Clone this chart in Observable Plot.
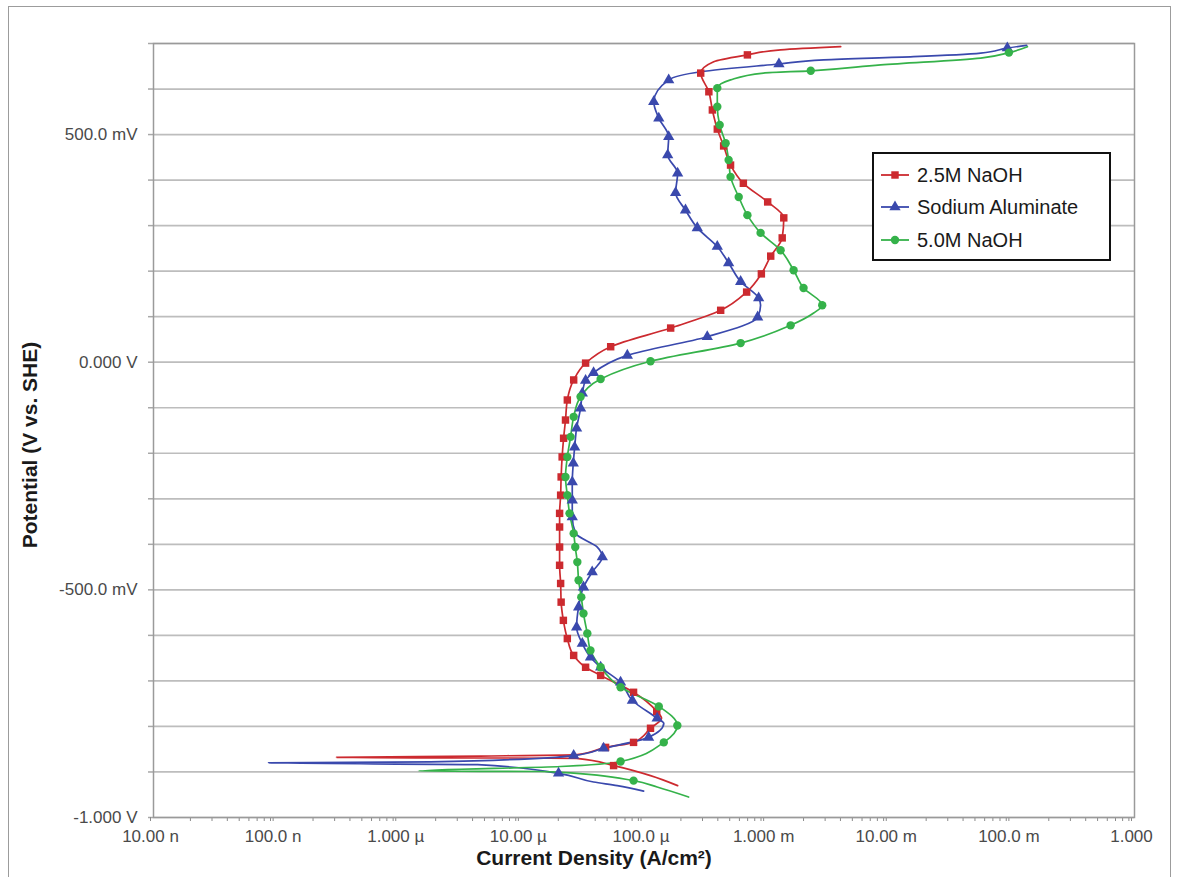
<!DOCTYPE html>
<html>
<head>
<meta charset="utf-8">
<script src="https://cdn.jsdelivr.net/npm/d3@7"></script>
<script src="https://cdn.jsdelivr.net/npm/@observablehq/plot@0.6"></script>
<style>
  html, body { margin: 0; padding: 0; background: #fff; }
  #wrap { position: relative; width: 1179px; height: 877px; overflow: hidden; font-family: "Liberation Sans", Arial, sans-serif; }
  #wrap svg.chart { position: absolute; left: 0; top: 0; }
  #outer { position: absolute; left: 8px; top: 6px; width: 1163px; height: 890px; border: 1.5px solid #9c9c9c; box-sizing: border-box; }
  .title { position: absolute; font-weight: bold; font-size: 21px; color: #1a1a1a; white-space: nowrap; }
  #xtitle { left: 594px; top: 858px; transform: translate(-50%, -50%); }
  #ytitle { left: 30px; top: 445px; transform: translate(-50%, -50%) rotate(-90deg); }
  #legend { position: absolute; left: 872px; top: 152px; width: 239px; height: 109px; box-sizing: border-box; border: 2px solid #111; background: #fff; }
  .row { position: absolute; left: 0; height: 26px; display: flex; align-items: center; font-size: 20px; color: #1a1a1a; }
  .row svg { margin-left: 6px; margin-right: 7px; }
</style>
</head>
<body>
<div id="wrap">
  <div id="outer"></div>
  <div id="legend"></div>
  <div class="title" id="xtitle">Current Density (A/cm²)</div>
  <div class="title" id="ytitle">Potential (V vs. SHE)</div>
</div>
<script>
// ---- series ----
const seriesNames = ["2.5M NaOH", "Sodium Aluminate", "5.0M NaOH"];
const seriesColors = ["#cc2a2f", "#3a49ad", "#35b24a"];
const seriesSymbols = ["square", "triangle", "circle"];

// 2.5M NaOH: potential (mV vs SHE), current density (A/cm²), marker flag
const naoh25E = [-930,-908,-886,-870,-868,-865,-862,-846,-835,-804,-782,-767,-725,-688,-670,-644,-607,-567,-527,-486,-446,-406,-362,-332,-292,-252,-208,-167,-127,-83,-39,-2,34,75,114,154,194,233,273,317,352,393,433,475,512,554,594,635,660,675,686,693];
const naoh25I = [1.88e-4,1.13e-4,5.65e-5,2.82e-5,3.11e-7,4.65e-6,2.86e-5,4.86e-5,8.22e-5,1.13e-4,1.39e-4,1.27e-4,8.22e-5,4.43e-5,3.34e-5,2.67e-5,2.37e-5,2.20e-5,2.11e-5,2.09e-5,2.05e-5,2.05e-5,2.05e-5,2.05e-5,2.09e-5,2.11e-5,2.15e-5,2.21e-5,2.29e-5,2.37e-5,2.67e-5,3.34e-5,5.35e-5,1.65e-4,4.22e-4,6.87e-4,9.06e-4,1.08e-3,1.34e-3,1.38e-3,1.02e-3,6.46e-4,5.08e-4,4.46e-4,3.96e-4,3.61e-4,3.38e-4,2.90e-4,3.70e-4,6.97e-4,1.30e-3,4.02e-3];
const naoh25M = [0,0,1,0,0,0,0,1,1,1,0,1,1,1,1,1,1,1,1,1,1,1,1,1,1,1,1,1,1,1,1,1,1,1,1,1,1,1,1,1,1,1,1,1,1,1,1,1,0,1,0,0];

// Sodium Aluminate
const alumE = [-942,-930,-922,-903,-884,-880,-878,-864,-848,-824,-793,-782,-743,-703,-670,-648,-618,-582,-538,-494,-461,-428,-406,-376,-340,-303,-263,-222,-187,-145,-101,-68,-40,-23,15,56,99,125,141,177,218,254,295,334,372,415,455,495,536,572,620,638,655,664,671,679,690,696];
const alumI = [9.93e-5,6.05e-5,3.88e-5,2.01e-5,4.40e-6,8.67e-8,1.82e-6,2.67e-5,4.68e-5,1.09e-4,1.45e-4,1.28e-4,8.04e-5,6.44e-5,4.43e-5,3.66e-5,3.14e-5,2.82e-5,2.93e-5,3.21e-5,3.78e-5,4.57e-5,4.16e-5,2.77e-5,2.60e-5,2.60e-5,2.60e-5,2.65e-5,2.72e-5,2.82e-5,3.04e-5,3.14e-5,3.34e-5,3.88e-5,7.31e-5,3.28e-4,8.45e-4,8.93e-4,8.61e-4,6.14e-4,4.90e-4,3.96e-4,2.72e-4,2.18e-4,1.81e-4,1.88e-4,1.56e-4,1.59e-4,1.32e-4,1.20e-4,1.59e-4,2.90e-4,1.26e-3,2.92e-3,1.58e-2,5.57e-2,9.18e-2,1.32e-1];
const alumM = [0,0,0,1,0,0,0,1,1,1,0,1,1,1,1,1,1,1,1,1,1,1,0,0,1,1,1,1,1,1,1,1,1,1,1,1,1,0,1,1,1,1,1,1,1,1,1,1,1,1,1,0,1,0,0,0,1,0];

// 5.0M NaOH
const naoh50E = [-955,-933,-919,-901,-899,-898,-888,-877,-835,-798,-756,-714,-670,-633,-596,-552,-516,-479,-439,-406,-376,-332,-292,-252,-208,-164,-120,-76,-37,2,42,81,108,125,163,202,246,284,323,363,407,444,481,521,561,602,620,635,640,653,668,680,693];
const naoh50I = [2.31e-4,1.28e-4,8.22e-5,2.09e-5,1.44e-5,1.45e-6,2.09e-5,6.44e-5,1.45e-4,1.87e-4,1.32e-4,6.44e-5,4.43e-5,3.66e-5,3.45e-5,3.21e-5,3.08e-5,2.93e-5,2.86e-5,2.75e-5,2.67e-5,2.47e-5,2.37e-5,2.29e-5,2.37e-5,2.52e-5,2.67e-5,3.04e-5,4.43e-5,1.13e-4,6.14e-4,1.57e-3,2.42e-3,2.84e-3,2.00e-3,1.66e-3,1.30e-3,8.93e-4,6.97e-4,5.92e-4,5.08e-4,4.90e-4,4.63e-4,4.14e-4,3.96e-4,3.96e-4,5.08e-4,9.44e-4,2.29e-3,8.51e-3,5.57e-2,9.46e-2,1.34e-1];
const naoh50M = [0,0,1,0,0,0,0,1,1,1,1,1,1,1,1,1,1,1,1,1,1,1,1,1,1,1,1,1,1,1,1,1,0,1,1,1,1,1,1,1,1,1,1,1,1,1,0,0,1,0,0,1,0];

// ---- axes ----
const yGridValues = d3.range(-1000, 701, 100);
const yLabelValues = [-1000, -500, 0, 500];
const yLabelTexts = ["-1.000 V", "-500.0 mV", "0.000 V", "500.0 mV"];
const xMajorValues = [1e-8, 1e-7, 1e-6, 1e-5, 1e-4, 1e-3, 1e-2, 1e-1, 1];
const xLabelTexts = ["10.00 n", "100.0 n", "1.000 µ", "10.00 µ", "100.0 µ", "1.000 m", "10.00 m", "100.0 m", "1.000"];
const xMinorValues = xMajorValues.slice(0, -1).flatMap(d => [2,3,4,5,6,7,8,9].map(k => k * d));

// ---- table ----
const sets = [[naoh25E, naoh25I, naoh25M], [alumE, alumI, alumM], [naoh50E, naoh50I, naoh50M]];
const rows = sets.flatMap(([E, I, M], s) => E.map((e, i) => ({series: seriesNames[s], E: e, I: I[i], m: M[i]})));

const chart = Plot.plot({
  width: 1179,
  height: 877,
  marginLeft: 153,
  marginRight: 45,
  marginTop: 43,
  marginBottom: 60,
  style: {fontFamily: "'Liberation Sans', Arial, sans-serif", fontSize: "17px", background: "transparent", overflow: "visible"},
  x: {type: "log", domain: [1e-8, 1]},
  y: {domain: [-1000, 700]},
  color: {domain: seriesNames, range: seriesColors},
  symbol: {domain: seriesNames, range: seriesSymbols},
  marks: [
    Plot.gridY(yGridValues, {stroke: "#bdbdbd", strokeOpacity: 1, strokeWidth: 1.7}),
    Plot.axisY(yGridValues, {tickSize: 5, tickPadding: 11, stroke: "#a8a8a8", strokeWidth: 1.5, fill: "#4a4a4a", label: null,
      tickFormat: d => { const k = yLabelValues.indexOf(d); return k >= 0 ? yLabelTexts[k] : ""; }}),
    Plot.axisX(xMinorValues, {tickSize: 4, stroke: "#8a8a8a", tickFormat: () => "", label: null}),
    Plot.axisX(xMajorValues, {tickSize: 4, tickPadding: 8, stroke: "#8a8a8a", fill: "#4a4a4a", label: null, dx: -3,
      tickFormat: d => xLabelTexts[xMajorValues.indexOf(d)]}),
    Plot.frame({stroke: "#9a9a9a", strokeWidth: 1.5}),
    Plot.line(rows, {x: "I", y: "E", z: "series", stroke: "series", strokeWidth: 1.7, curve: "monotone-y"}),
    Plot.dot(rows.filter(d => d.m), {x: "I", y: "E", symbol: "series", fill: "series", r: 4.2})
  ]
});
chart.classList.add("chart");
document.getElementById("wrap").insertBefore(chart, document.getElementById("outer"));

// ---- legend ----
const legend = document.getElementById("legend");
const rowTops = [8, 40, 73];
const symbolTypes = {square: d3.symbolSquare, triangle: d3.symbolTriangle, circle: d3.symbolCircle};
seriesNames.forEach((name, i) => {
  const row = document.createElement("div");
  row.className = "row";
  row.style.top = rowTops[i] + "px";
  const sym = d3.symbol(symbolTypes[seriesSymbols[i]], Math.PI * 4.2 * 4.2)();
  row.innerHTML = `<svg width="30" height="14" viewBox="-15 -7 30 14"><line x1="-14" x2="14" y1="0" y2="0" stroke="${seriesColors[i]}" stroke-width="1.8"/><path d="${sym}" fill="${seriesColors[i]}"/></svg><span>${name}</span>`;
  legend.appendChild(row);
});
</script>
</body>
</html>
